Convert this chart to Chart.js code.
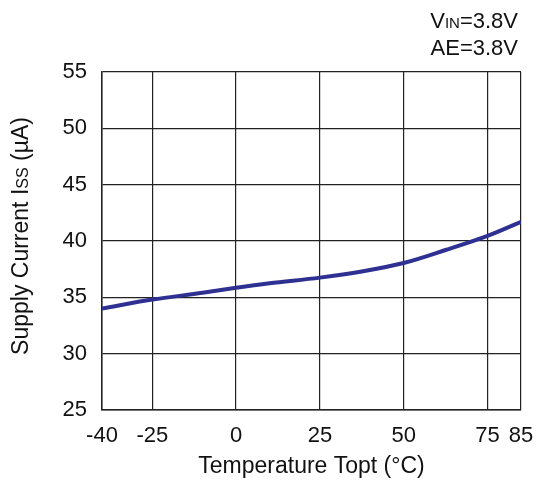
<!DOCTYPE html>
<html>
<head>
<meta charset="utf-8">
<script src="https://cdn.jsdelivr.net/npm/chart.js@4/dist/chart.umd.min.js"></script>
<style>
  html, body { margin: 0; padding: 0; background: #fff; }
  #wrap { width: 537px; height: 483px; position: relative; }
</style>
</head>
<body>
<div id="wrap"><canvas id="chart"></canvas></div>
<script>
// temperature (°C) and supply current (µA)
const temps = [-40, -25, -10, 0, 10, 25, 37.5, 50, 62.5, 75, 85]
const current = [34.0, 34.8, 35.4, 35.85, 36.25, 36.75, 37.3, 38.05, 39.2, 40.45, 41.7]

const xTicks = [-40, -25, 0, 25, 50, 75, 85]
const yTicks = [25, 30, 35, 40, 45, 50, 55]

const FONT = "'Liberation Sans', Arial, sans-serif"
const INK = "#111"

// draws text pieces of mixed size one after another
function drawRuns(ctx, runs, x, y, align) {
  let total = 0
  runs.forEach(r => { ctx.font = r.size + "px " + FONT; total += ctx.measureText(r.text).width })
  let cx = align === "right" ? x - total : align === "center" ? x - total / 2 : x
  ctx.textAlign = "left"
  runs.forEach(r => {
    ctx.font = r.size + "px " + FONT
    ctx.fillText(r.text, cx, y)
    cx += ctx.measureText(r.text).width
  })
}

const labelsPlugin = {
  id: "labels",
  afterDraw(chart) {
    const ctx = chart.ctx
    ctx.save()
    ctx.fillStyle = INK
    ctx.textBaseline = "alphabetic"
    drawRuns(ctx, [{ text: "V", size: 22 }, { text: "IN", size: 15 }, { text: "=3.8V", size: 22 }], 518, 28, "right")
    drawRuns(ctx, [{ text: "AE=3.8V", size: 22 }], 518, 55, "right")

    ctx.translate(28, 236)
    ctx.rotate(-Math.PI / 2)
    drawRuns(ctx, [
      { text: "Supply Current I", size: 23 },
      { text: "SS", size: 16 },
      { text: " (µA)", size: 23 }
    ], 0, 0, "center")
    ctx.restore()
  }
}

new Chart(document.getElementById("chart").getContext("2d"), {
  type: "line",
  data: {
    datasets: [{
      data: temps.map((t, i) => ({ x: t, y: current[i] })),
      borderColor: "#2E3192",
      borderWidth: 4,
      pointRadius: 0,
      tension: 0.4,
      cubicInterpolationMode: "monotone",
      fill: false
    }]
  },
  options: {
    responsive: true,
    maintainAspectRatio: false,
    animation: false,
    layout: { padding: { top: 72, right: 16, left: 0, bottom: 0 } },
    plugins: {
      legend: { display: false },
      tooltip: { enabled: false }
    },
    scales: {
      x: {
        type: "linear",
        min: -40,
        max: 85,
        afterBuildTicks: (scale) => { scale.ticks = xTicks.map(v => ({ value: v })) },
        afterFit: (scale) => {
          scale.height = 73
          scale.paddingLeft = 0
          scale.paddingRight = 0
        },
        grid: { color: "#222", lineWidth: 1.2, drawTicks: false },
        border: { color: "#222", width: 1.5 },
        ticks: {
          autoSkip: false,
          maxRotation: 0,
          padding: 13,
          color: INK,
          font: { family: FONT, size: 22 }
        },
        title: {
          display: true,
          text: "Temperature Topt (°C)",
          color: INK,
          padding: { top: 0, bottom: 3 },
          font: { family: FONT, size: 23 }
        }
      },
      y: {
        min: 25,
        max: 55,
        afterBuildTicks: (scale) => { scale.ticks = yTicks.map(v => ({ value: v })) },
        afterFit: (scale) => { scale.width = 102 },
        grid: { color: "#222", lineWidth: 1.2, drawTicks: false },
        border: { color: "#222", width: 1.5 },
        ticks: {
          padding: 15,
          color: INK,
          font: { family: FONT, size: 22 }
        }
      }
    }
  },
  plugins: [labelsPlugin]
})
</script>
</body>
</html>
